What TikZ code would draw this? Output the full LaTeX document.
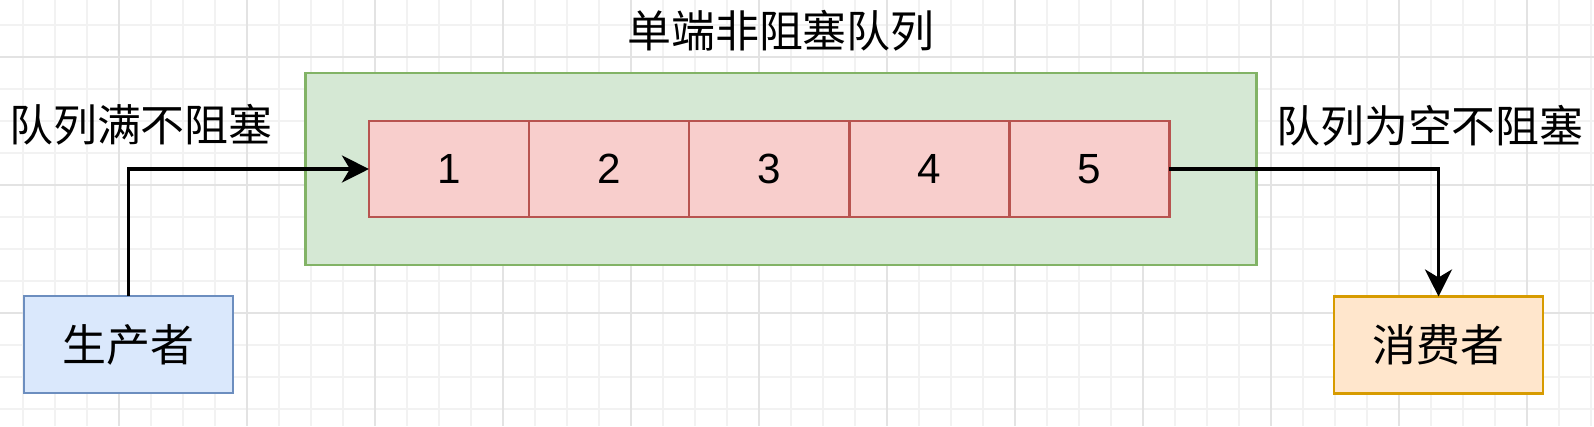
\documentclass[tikz,border=0pt]{standalone}
\usepackage{fontspec}
\setmainfont{Liberation Sans}
\newfontfamily\cjk{Noto Sans CJK SC}
\usepackage{xcolor}
\usetikzlibrary{arrows.meta,positioning}
\definecolor{greenfill}{HTML}{D5E8D4}
\definecolor{greenline}{HTML}{82B366}
\definecolor{redfill}{HTML}{F8CECC}
\definecolor{redline}{HTML}{B85450}
\definecolor{bluefill}{HTML}{DAE8FC}
\definecolor{blueline}{HTML}{6C8EBF}
\definecolor{orangefill}{HTML}{FFE6CC}
\definecolor{orangeline}{HTML}{D79B00}

\begin{document}
\begin{tikzpicture} [
      x = 0.01cm, y = -0.01cm,
      every node/.style = { font = \fontsize{12.5}{15}\selectfont\cjk },
      box/.style = { draw, line width = 0.75pt, inner sep = 0, outer sep = 0 },
      cell/.style = { box, draw = redline, fill = redfill, minimum width = 1.6cm, minimum height = 0.96cm, font = \fontsize{12}{14}\selectfont },
      actor/.style = { box, minimum width = 2.09cm, minimum height = 0.97cm },
      flow/.style = { line width = 1pt, -{Stealth[length = 0.27cm, width = 0.27cm, inset = 0.08cm]} }
      ]

      \fill [white] (0,0) rectangle (1594,426);
      \useasboundingbox (0,0) rectangle (1594,426);
      \foreach \x in {23,55,...,1594} \draw [gray!10, line width = 0.4pt] (\x,0) -- (\x,426);
      \foreach \y in {25,57,...,426} \draw [gray!10, line width = 0.4pt] (0,\y) -- (1594,\y);
      \foreach \x in {119,247,...,1594} \draw [gray!22, line width = 0.5pt] (\x,0) -- (\x,426);
      \foreach \y in {57,185,313} \draw [gray!22, line width = 0.5pt] (0,\y) -- (1594,\y);

      \node [box, draw = greenline, fill = greenfill, minimum width = 9.5cm, minimum height = 1.92cm] (queue) at (781,169) {};
      \node (title) at (781,31) {单端非阻塞队列};

      \node [cell] (c1) at (449,169) {1};
      \foreach \i [count = \j] in {2,...,5}
        \node [cell, right = 0 of c\j] (c\i) {\i};

      \node [actor, draw = blueline, fill = bluefill] (prod) at (128.5,344.5) {生产者};
      \node [actor, draw = orangeline, fill = orangefill] (cons) at (1438.5,345) {消费者};

      \node (full) at (141,125) {队列满不阻塞};
      \node (empty) at (1430,126) {队列为空不阻塞};

      \draw [flow] (prod) |- (c1);
      \draw [flow] (c5) -| (cons);
    \end{tikzpicture}
\end{document}
